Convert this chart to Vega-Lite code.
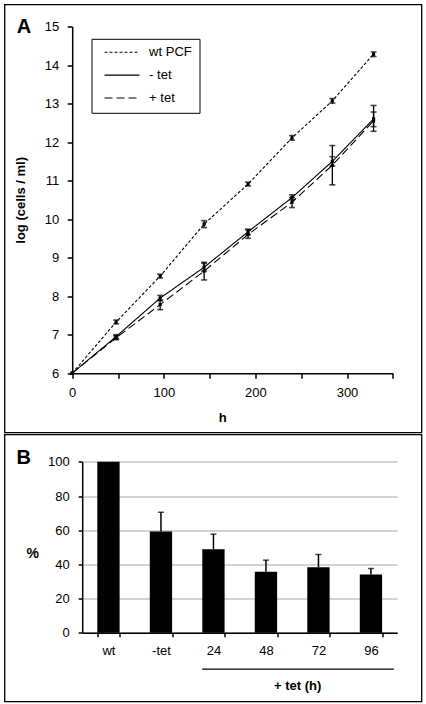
{
  "$schema": "https://vega.github.io/schema/vega-lite/v6.json",
  "padding": {"left": 3.5, "top": 3.5, "right": 0, "bottom": 0},
  "spacing": 0,
  "config": {
    "font": "Liberation Sans",
    "view": {"stroke": "black", "strokeWidth": 1.3},
    "axis": {
      "domainColor": "black", "domainWidth": 1.5, "tickColor": "black", "tickWidth": 1.5,
      "labelColor": "black", "labelFontSize": 13, "titleColor": "black", "titleFontSize": 13,
      "titleFontWeight": "bold", "grid": false
    }
  },
  "datasets": {
    "growth": [
      {"series": "wt PCF", "h": 0, "v": 6},
      {"series": "wt PCF", "h": 48, "v": 7.33, "lo": 7.28, "hi": 7.38},
      {"series": "wt PCF", "h": 96, "v": 8.52, "lo": 8.47, "hi": 8.57},
      {"series": "wt PCF", "h": 144, "v": 9.87, "lo": 9.78, "hi": 9.96},
      {"series": "wt PCF", "h": 192, "v": 10.91, "lo": 10.86, "hi": 10.96},
      {"series": "wt PCF", "h": 240, "v": 12.11, "lo": 12.05, "hi": 12.17},
      {"series": "wt PCF", "h": 284, "v": 13.07, "lo": 13.01, "hi": 13.13},
      {"series": "wt PCF", "h": 329, "v": 14.28, "lo": 14.22, "hi": 14.34},
      {"series": "- tet", "h": 0, "v": 6},
      {"series": "- tet", "h": 48, "v": 6.95, "lo": 6.9, "hi": 7.0},
      {"series": "- tet", "h": 96, "v": 7.95, "lo": 7.88, "hi": 8.02},
      {"series": "- tet", "h": 144, "v": 8.75, "lo": 8.65, "hi": 8.85},
      {"series": "- tet", "h": 192, "v": 9.67, "lo": 9.6, "hi": 9.74},
      {"series": "- tet", "h": 240, "v": 10.56, "lo": 10.5, "hi": 10.63},
      {"series": "- tet", "h": 284, "v": 11.5, "lo": 11.38, "hi": 11.62},
      {"series": "- tet", "h": 329, "v": 12.6, "lo": 12.28, "hi": 12.95},
      {"series": "+ tet", "h": 0, "v": 6},
      {"series": "+ tet", "h": 48, "v": 6.92, "lo": 6.87, "hi": 6.97},
      {"series": "+ tet", "h": 96, "v": 7.78, "lo": 7.65, "hi": 7.9},
      {"series": "+ tet", "h": 144, "v": 8.65, "lo": 8.42, "hi": 8.88},
      {"series": "+ tet", "h": 192, "v": 9.6, "lo": 9.5, "hi": 9.72},
      {"series": "+ tet", "h": 240, "v": 10.44, "lo": 10.3, "hi": 10.56},
      {"series": "+ tet", "h": 284, "v": 11.4, "lo": 10.89, "hi": 11.91},
      {"series": "+ tet", "h": 329, "v": 12.55, "lo": 12.4, "hi": 12.78}
    ],
    "labelA": [{"label": "A", "h": -52.6, "v": 14.82}],
    "pct": [
      {"cat": "wt", "val": 100},
      {"cat": "-tet", "val": 59.2, "err": 70.5},
      {"cat": "24", "val": 48.9, "err": 57.7},
      {"cat": "48", "val": 35.7, "err": 42.5},
      {"cat": "72", "val": 38.4, "err": 45.8},
      {"cat": "96", "val": 34.1, "err": 37.6}
    ],
    "underline": [{"from": "24", "to": "96", "y": -21.3}],
    "labelB": [{"label": "B", "cat": "wt", "y": 98.6}]
  },
  "vconcat": [
    {
      "width": 417,
      "height": 428,
      "layer": [
        {
          "data": {"name": "growth"},
          "mark": {"type": "line", "color": "black", "strokeWidth": 1.1},
          "encoding": {
            "x": {"field": "h", "type": "quantitative",
              "scale": {"domain": [0, 350], "range": [67.7, 388.3], "nice": false, "zero": false},
              "axis": {"values": [0, 50, 100, 150, 200, 250, 300, 350],
                "labelExpr": "datum.value % 100 == 0 ? datum.label : ''",
                "offset": -59.3, "tickSize": 5, "labelPadding": 8, "labelFlush": false, "labelOverlap": false,
                "title": "h", "titleX": 217.7, "titleY": 44, "titleBaseline": "middle"}},
            "y": {"field": "v", "type": "quantitative",
              "scale": {"domain": [6, 15], "range": [368.7, 22], "nice": false, "zero": false},
              "axis": {"values": [6, 7, 8, 9, 10, 11, 12, 13, 14, 15],
                "offset": -67.7, "tickSize": 5, "labelPadding": 8.5, "labelFlush": false,
                "title": "log (cells / ml)", "titleX": -51.7, "titleBaseline": "middle"}},
            "strokeDash": {"field": "series", "type": "nominal",
              "scale": {"domain": ["wt PCF", "- tet", "+ tet"], "range": [[3, 2], [1, 0], [8, 4]]},
              "legend": {"orient": "none", "legendX": 87, "legendY": 34.3, "title": null,
                "strokeColor": "black", "padding": 7.4, "clipHeight": 12,
                "symbolSize": 1225, "symbolStrokeWidth": 1.1, "symbolStrokeColor": "black", "symbolOffset": 4.6,
                "labelFontSize": 13, "labelColor": "black", "labelOffset": 8.6, "rowPadding": 9.9}}
          }
        },
        {
          "data": {"name": "growth"},
          "mark": {"type": "rule", "color": "black", "strokeWidth": 1.3},
          "encoding": {
            "x": {"field": "h", "type": "quantitative"},
            "y": {"field": "lo", "type": "quantitative"},
            "y2": {"field": "hi"}
          }
        },
        {
          "data": {"name": "growth"},
          "mark": {"type": "tick", "color": "black", "orient": "horizontal", "size": 6, "thickness": 1.6},
          "encoding": {
            "x": {"field": "h", "type": "quantitative"},
            "y": {"field": "lo", "type": "quantitative"}
          }
        },
        {
          "data": {"name": "growth"},
          "mark": {"type": "tick", "color": "black", "orient": "horizontal", "size": 6, "thickness": 1.6},
          "encoding": {
            "x": {"field": "h", "type": "quantitative"},
            "y": {"field": "hi", "type": "quantitative"}
          }
        },
        {
          "data": {"name": "growth"},
          "mark": {"type": "point", "shape": "square", "filled": true, "color": "black", "size": 10, "opacity": 1},
          "encoding": {
            "x": {"field": "h", "type": "quantitative"},
            "y": {"field": "v", "type": "quantitative"}
          }
        },
        {
          "data": {"name": "labelA"},
          "mark": {"type": "text", "fontSize": 20, "fontWeight": "bold", "color": "black", "align": "center", "baseline": "alphabetic"},
          "encoding": {
            "x": {"field": "h", "type": "quantitative"},
            "y": {"field": "v", "type": "quantitative"},
            "text": {"field": "label"}
          }
        }
      ]
    },
    {
      "width": 417,
      "height": 267,
      "layer": [
        {
          "data": {"name": "pct"},
          "mark": {"type": "bar", "color": "black"},
          "encoding": {
            "x": {"field": "cat", "type": "nominal",
              "scale": {"domain": ["wt", "-tet", "24", "48", "72", "96"], "range": [77.7, 392.7], "paddingInner": 0.575, "paddingOuter": 0.2875},
              "axis": {"labelAngle": 0, "tickBand": "extent", "offset": -68.7, "tickSize": 4, "labelPadding": 8,
                "title": "+ tet (h)", "titleX": 292.7, "titleY": 52.5, "titleBaseline": "middle"}},
            "y": {"field": "val", "type": "quantitative",
              "scale": {"domain": [0, 100], "range": [198.3, 27.3], "nice": false, "zero": false},
              "axis": {"values": [0, 20, 40, 60, 80, 100], "grid": true, "gridColor": "#a6a6a6", "gridWidth": 1,
                "offset": -77.7, "tickSize": 4, "labelPadding": 9, "labelFlush": false,
                "title": "%", "titleAngle": 0, "titleX": -50, "titleY": 118.7, "titleAlign": "center", "titleBaseline": "middle", "titleFontSize": 14}}
          }
        },
        {
          "data": {"name": "pct"},
          "mark": {"type": "rule", "color": "black", "strokeWidth": 1.5},
          "encoding": {
            "x": {"field": "cat", "type": "nominal"},
            "y": {"field": "val", "type": "quantitative"},
            "y2": {"field": "err"}
          }
        },
        {
          "data": {"name": "pct"},
          "mark": {"type": "tick", "color": "black", "orient": "horizontal", "size": 6, "thickness": 1.5},
          "encoding": {
            "x": {"field": "cat", "type": "nominal"},
            "y": {"field": "err", "type": "quantitative"}
          }
        },
        {
          "data": {"name": "underline"},
          "mark": {"type": "rule", "color": "black", "strokeWidth": 1.3},
          "encoding": {
            "x": {"field": "from", "type": "nominal", "bandPosition": 0},
            "x2": {"field": "to", "bandPosition": 1.52},
            "y": {"field": "y", "type": "quantitative"}
          }
        },
        {
          "data": {"name": "labelB"},
          "mark": {"type": "text", "fontSize": 20, "fontWeight": "bold", "color": "black", "align": "center", "baseline": "alphabetic"},
          "encoding": {
            "x": {"field": "cat", "type": "nominal", "bandPosition": -3.3},
            "y": {"field": "y", "type": "quantitative"},
            "text": {"field": "label"}
          }
        }
      ]
    }
  ]
}
